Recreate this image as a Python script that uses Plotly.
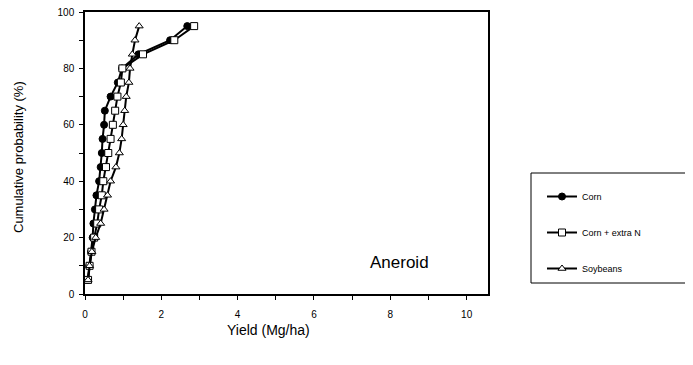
import plotly.graph_objects as go

prob = [5, 10, 15, 20, 25, 30, 35, 40, 45, 50, 55, 60, 65, 70, 75, 80, 85, 90, 95]
corn = [0.07, 0.11, 0.16, 0.20, 0.22, 0.26, 0.30, 0.37, 0.41, 0.44, 0.46, 0.50, 0.52, 0.67, 0.86, 0.97, 1.40, 2.23, 2.68]
corn_n = [0.08, 0.12, 0.17, 0.24, 0.32, 0.37, 0.44, 0.48, 0.55, 0.61, 0.67, 0.73, 0.79, 0.85, 0.94, 0.98, 1.52, 2.34, 2.86]
soy = [0.08, 0.12, 0.18, 0.28, 0.41, 0.50, 0.59, 0.67, 0.81, 0.90, 0.96, 1.00, 1.04, 1.08, 1.15, 1.18, 1.24, 1.31, 1.42]

series_names = ["Corn", "Corn + extra N", "Soybeans"]
x_ticks = [0, 2, 4, 6, 8, 10]
y_ticks = [0, 20, 40, 60, 80, 100]

FONT = "Liberation Sans, Arial, sans-serif"

fig = go.Figure()
styles = [
    dict(symbol="circle", size=7, color="black"),
    dict(symbol="square", size=7, color="white"),
    dict(symbol="triangle-up", size=7, color="white"),
]
for i, (name, xs) in enumerate(zip(series_names, [corn, corn_n, soy])):
    st = styles[i]
    fig.add_trace(go.Scatter(
        x=xs, y=prob, name=name, mode="lines+markers",
        line=dict(color="black", width=2),
        marker=dict(symbol=st["symbol"], size=st["size"], color=st["color"],
                    line=dict(color="black", width=1)),
        legendgroup=name,
    ))

axis_common = dict(
    showline=True, linecolor="black", linewidth=1.5, mirror=True, automargin=False,
    showgrid=False, zeroline=False, ticks="outside", ticklen=4, tickwidth=1,
    tickcolor="black", tickfont=dict(family=FONT, size=10, color="black"),
    ticklabeloverflow="allow",
)
fig.update_xaxes(range=[0, 10.56], tickvals=x_ticks, ticklabelstandoff=6,
                 minor=dict(dtick=1, tick0=0, ticks="outside", ticklen=4, tickcolor="black"),
                 **axis_common)
fig.update_yaxes(range=[0, 100], tickvals=y_ticks, ticklabelstandoff=3,
                 minor=dict(dtick=10, tick0=0, ticks="outside", ticklen=4, tickcolor="black"),
                 **axis_common)

# page body has an 8px margin: figure sits at (8, 8) in the window
fig.update_layout(
    template="none",
    width=685, height=357,
    margin=dict(l=77, r=205, t=4, b=71, autoexpand=False),
    paper_bgcolor="white", plot_bgcolor="white",
    font=dict(family=FONT, color="black"),
    showlegend=True,
    legend=dict(
        x=(542 - 85) / 403, y=(294 - 182) / 282, xanchor="left", yanchor="top",
        bgcolor="rgba(0,0,0,0)", borderwidth=0,
        font=dict(family=FONT, size=9, color="black"),
        traceorder="grouped", tracegroupgap=17, itemwidth=30,
    ),
    shapes=[dict(type="rect", xref="paper", yref="paper",
                 x0=(531 - 85) / 403, x1=(690 - 85) / 403,
                 y0=(294 - 283) / 282, y1=(294 - 173) / 282,
                 line=dict(color="black", width=1))],
    annotations=[
        dict(text="Aneroid", xref="x", yref="y", x=8.25, y=11, showarrow=False,
             xanchor="center", yanchor="middle",
             font=dict(family=FONT, size=17, color="black")),
        dict(text="Yield (Mg/ha)", xref="paper", yref="paper", x=(268 - 85) / 403,
             y=(294 - 330) / 282, showarrow=False, xanchor="center", yanchor="middle",
             font=dict(family=FONT, size=14, color="black")),
        dict(text="Cumulative probability (%)", xref="paper", yref="paper",
             x=(18 - 85) / 403, y=(294 - 157) / 282, textangle=-90, showarrow=False,
             xanchor="center", yanchor="middle",
             font=dict(family=FONT, size=13, color="black")),
    ],
)

fig.write_html("out.html")
